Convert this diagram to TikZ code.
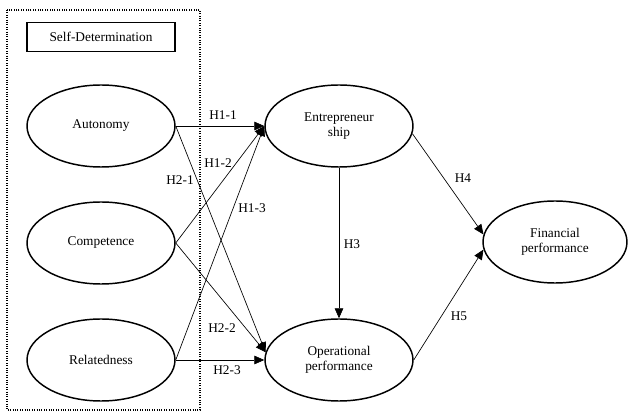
\documentclass[tikz,border=0pt]{standalone}
\usepackage{fontspec}
\setmainfont{Liberation Serif}
\usetikzlibrary{shapes.geometric,arrows.meta}

\begin{document}
\begin{tikzpicture}[x=0.75pt,y=-0.75pt,
    every node/.style={font=\fontsize{10}{11.5}\selectfont},
    construct/.style={draw, ellipse, line width=1.1pt, minimum width=111pt,
        minimum height=61.5pt, inner sep=0pt, align=center},
    path/.style={-{Triangle[length=7.5pt,width=6.5pt]}, line width=0.5pt},
    hyp/.style={inner sep=1pt}]
    \useasboundingbox (0,0) rectangle (629,413);

    % Self-determination group
    \draw[densely dotted, line width=0.8pt] (7,10) rectangle (200,410);
    \node[draw, line width=0.9pt, minimum width=111pt, minimum height=22pt] (sdt) at (101,37) {Self-Determination};

    % Constructs
    \node[construct] (auto) at (101,126) {Autonomy};
    \node[construct] (comp) at (101,243) {Competence};
    \node[construct] (rela) at (101,360) {Relatedness};
    \node[construct] (entre) at (339,126) {Entrepreneur\\ship};
    \node[construct] (oper) at (339,360) {Operational\\performance};
    \node[construct, minimum width=108pt] (fin) at (555,242) {Financial\\performance};

    % Paths to entrepreneurship
    \foreach \src in {auto,comp,rela}
        \draw[path] (\src.east) -- (entre.west);

    % Paths to operational performance
    \draw[path] (auto.east) -- (oper.174);
    \draw[path] (comp.east) -- (oper.174);
    \draw[path] (rela.east) -- (oper.west);

    % Outcome paths
    \draw[path] (entre.south) -- (oper.north);
    \draw[path] (entre.-6) -- (fin.174);
    \draw[path] (oper.east) -- (fin.186);

    % Hypothesis labels
    \node[hyp] (h11) at (223,115) {H1-1};
    \node[hyp] (h12) at (218,163) {H1-2};
    \node[hyp] (h21) at (180,180) {H2-1};
    \node[hyp] (h13) at (252,208) {H1-3};
    \node[hyp] (h22) at (222,328) {H2-2};
    \node[hyp] (h23) at (227,370) {H2-3};
    \node[hyp] (h3) at (352,244) {H3};
    \node[hyp] (h4) at (463,178) {H4};
    \node[hyp] (h5) at (459,316) {H5};
\end{tikzpicture}
\end{document}
